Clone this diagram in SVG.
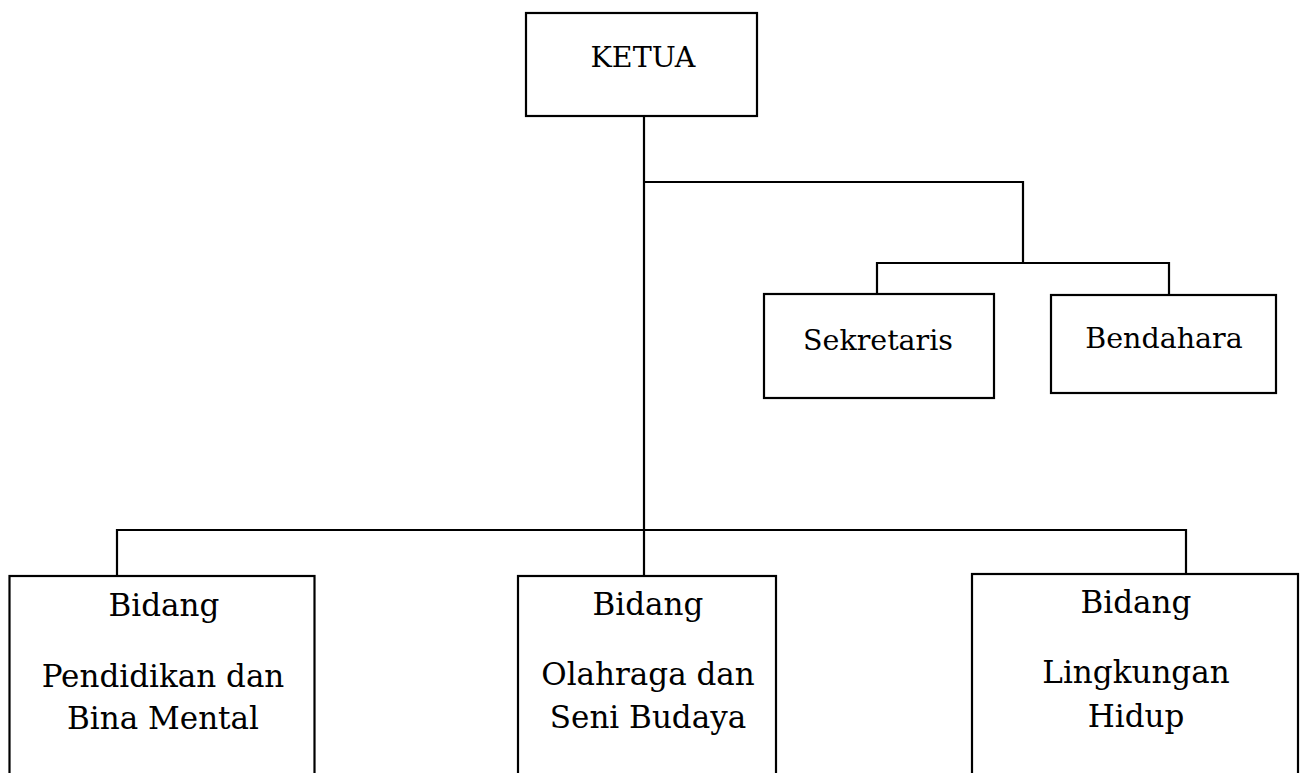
<svg xmlns="http://www.w3.org/2000/svg" width="1302" height="773" viewBox="0 0 1302 773">
<style>
.box{fill:#fff;stroke:#000;stroke-width:2.2}
.ln{fill:none;stroke:#000;stroke-width:2.2}
.t{font-family:"DejaVu Serif","Liberation Serif",serif;font-size:28.5px;fill:#000;text-anchor:middle}
.b{font-size:31px}
</style>
<rect width="1302" height="773" fill="#fff"/>
<g id="connectors">
<path class="ln" d="M644,117 V576"/>
<path class="ln" d="M644,182 H1023 V263"/>
<path class="ln" d="M877,263 H1169 M877,262 V295 M1169,262 V297"/>
<path class="ln" d="M117,530 H1186 M117,529 V578 M1186,529 V573"/>
</g>
<g id="ketua">
<rect class="box" x="526" y="13" width="231" height="103"/>
<text class="t" x="643" y="67">KETUA</text>
</g>
<g id="sekretaris">
<rect class="box" x="764" y="294" width="230" height="104"/>
<text class="t" x="878" y="350">Sekretaris</text>
</g>
<g id="bendahara">
<rect class="box" x="1051" y="295" width="225" height="98"/>
<text class="t" x="1164" y="348">Bendahara</text>
</g>
<g id="bidang-pendidikan">
<rect class="box" x="9.5" y="576" width="305" height="220"/>
<text class="t b" x="164" y="616">Bidang</text>
<text class="t b" x="163" y="687">Pendidikan dan</text>
<text class="t b" x="163" y="729">Bina Mental</text>
</g>
<g id="bidang-olahraga">
<rect class="box" x="518" y="576" width="258" height="220"/>
<text class="t b" x="648" y="615">Bidang</text>
<text class="t b" x="648" y="685">Olahraga dan</text>
<text class="t b" x="648" y="728">Seni Budaya</text>
</g>
<g id="bidang-lingkungan">
<rect class="box" x="972" y="574" width="326" height="220"/>
<text class="t b" x="1136" y="613">Bidang</text>
<text class="t b" x="1136" y="683">Lingkungan</text>
<text class="t b" x="1136" y="727">Hidup</text>
</g>
</svg>
